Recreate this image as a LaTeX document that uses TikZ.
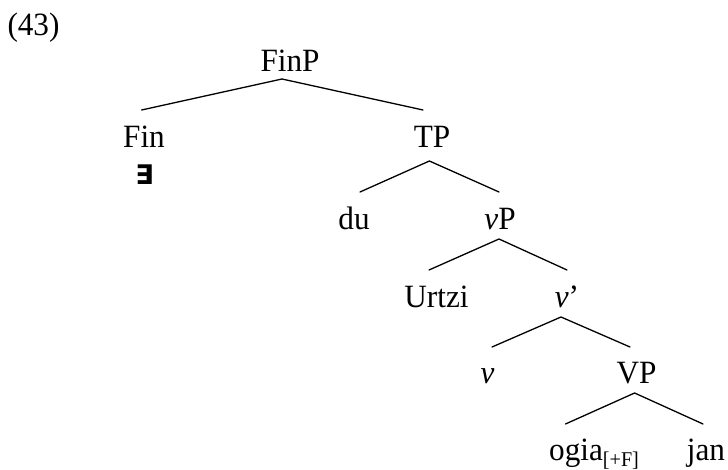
\documentclass[tikz,border=0pt]{standalone}
\usepackage{fontspec}
\setmainfont[FakeStretch=0.96]{Liberation Serif}
\newfontfamily\dejavu{DejaVu Sans}
\begin{document}
\begin{tikzpicture}[x=1pt,y=-1pt,
  lab/.style={inner sep=0pt, anchor=base, font=\fontsize{32.5}{38}\selectfont},
  branch/.style={line width=1.3pt, line cap=round}]
\useasboundingbox (0,0) rectangle (728,470);
\node[lab] (num) at (33.5,36) {(43)};
\node[lab] (FinP) at (290,72) {FinP};
\node[lab] (Fin) at (144,147.5) {Fin};
\node[anchor=base, inner sep=0pt, font=\dejavu\bfseries\fontsize{27}{28}\selectfont] (exists) at (144.5,185) {∃};
\node[lab] (TP) at (432,147.5) {TP};
\node[lab] (du) at (354,230) {du};
\node[lab] (vP) at (500,230) {\textit{v}P};
\node[lab] (Urtzi) at (436.5,307) {Urtzi};
\node[lab] (vbar) at (567,307) {\textit{v}’};
\node[lab] (v) at (487.5,383) {\textit{v}};
\node[lab] (VP) at (636.5,383) {VP};
\node[lab, anchor=base west] (ogia) at (549,460) {ogia\raisebox{-6pt}{\fontsize{21}{21}\selectfont[+F]}};
\node[lab] (jan) at (706,460) {jan};
% branch points
\coordinate (FinP-a) at (282,79);
\coordinate (Fin-t) at (141.6,110);
\coordinate (TP-t) at (423,110);
\coordinate (TP-a) at (429.4,161);
\coordinate (du-t) at (360,192);
\coordinate (vP-t) at (499,192);
\coordinate (vP-a) at (499,239);
\coordinate (Urtzi-t) at (429,270);
\coordinate (vbar-t) at (567,270);
\coordinate (vbar-a) at (561,317);
\coordinate (v-t) at (492,347);
\coordinate (VP-t) at (630,347);
\coordinate (VP-a) at (634.6,393);
\coordinate (ogia-t) at (565.5,424);
\coordinate (jan-t) at (703,424);
\draw[branch] (Fin-t) -- (FinP-a) -- (TP-t);
\draw[branch] (du-t) -- (TP-a) -- (vP-t);
\draw[branch] (Urtzi-t) -- (vP-a) -- (vbar-t);
\draw[branch] (v-t) -- (vbar-a) -- (VP-t);
\draw[branch] (ogia-t) -- (VP-a) -- (jan-t);
\end{tikzpicture}
\end{document}
